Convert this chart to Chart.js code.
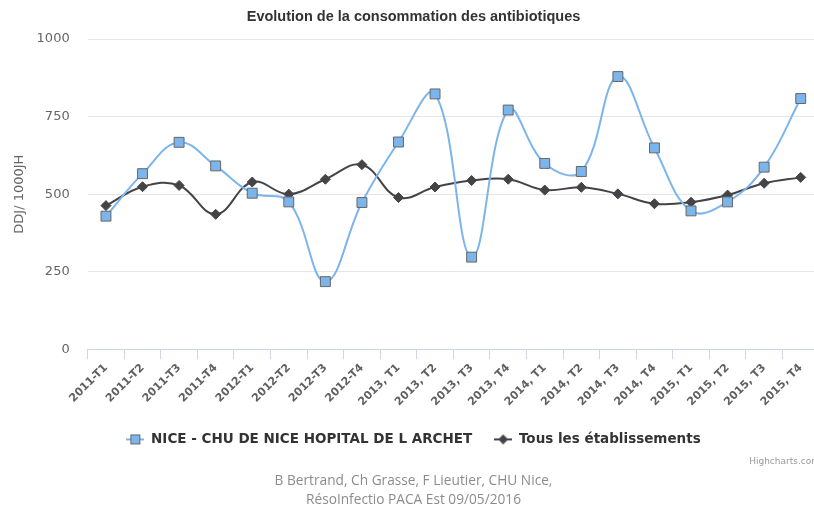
<!DOCTYPE html>
<html>
<head>
<meta charset="utf-8">
<script src="https://cdn.jsdelivr.net/npm/chart.js@4.4.1/dist/chart.umd.min.js"></script>
<style>
  html, body { margin: 0; padding: 0; background: #fff; overflow: hidden; }
  #wrap { width: 814px; height: 511px; overflow: hidden; }
  #box { width: 830px; height: 511px; }
</style>
</head>
<body>
<div id="wrap"><div id="box"><canvas id="graphique"></canvas></div></div>
<script>
// Trimestres
const categories = ['2011-T1', '2011-T2', '2011-T3', '2011-T4', '2012-T1', '2012-T2', '2012-T3', '2012-T4',
  '2013, T1', '2013, T2', '2013, T3', '2013, T4', '2014, T1', '2014, T2', '2014, T3', '2014, T4',
  '2015, T1', '2015, T2', '2015, T3', '2015, T4']

// DDJ / 1000JH
const valeursNice = [429, 566, 667, 591, 503, 475, 218, 473, 668, 823, 297, 771, 599, 573, 879, 649, 446, 475, 587, 808]
const valeursTous = [463, 524, 528, 435, 539, 500, 548, 595, 489, 523, 544, 548, 513, 522, 501, 469, 474, 497, 535, 554]

const yTicks = [0, 250, 500, 750, 1000]

const titre = 'Evolution de la consommation des antibiotiques'
const source = ['B Bertrand, Ch Grasse, F Lieutier, CHU Nice,', 'RésoInfectio PACA Est 09/05/2016']

// petites icones de legende (trait + marqueur)
function iconeLegende(couleur, forme) {
  const c = document.createElement('canvas')
  c.width = 18
  c.height = 12
  const ctx = c.getContext('2d')
  ctx.strokeStyle = couleur
  ctx.lineWidth = 2
  ctx.beginPath()
  ctx.moveTo(0, 6)
  ctx.lineTo(18, 6)
  ctx.stroke()
  if (forme === 'carre') {
    ctx.fillStyle = '#7cb5ec'
    ctx.strokeStyle = '#666666'
    ctx.lineWidth = 1
    ctx.fillRect(4.5, 1.5, 9, 9)
    ctx.strokeRect(4.5, 1.5, 9, 9)
  } else {
    ctx.fillStyle = '#434348'
    ctx.beginPath()
    ctx.moveTo(9, 1)
    ctx.lineTo(14, 6)
    ctx.lineTo(9, 11)
    ctx.lineTo(4, 6)
    ctx.closePath()
    ctx.fill()
  }
  return c
}

const icones = [iconeLegende('#7cb5ec', 'carre'), iconeLegende('#434348', 'losange')]

const credits = {
  id: 'credits',
  afterDraw(chart) {
    const ctx = chart.ctx
    ctx.save()
    ctx.font = '9px "DejaVu Sans"'
    ctx.fillStyle = '#999999'
    ctx.textAlign = 'right'
    ctx.textBaseline = 'middle'
    ctx.fillText('Highcharts.com', 820, 462)
    ctx.restore()
  }
}

new Chart(document.getElementById('graphique'), {
  type: 'line',
  data: {
    labels: categories,
    datasets: [{
      label: 'NICE - CHU DE NICE HOPITAL DE L ARCHET',
      data: valeursNice,
      borderColor: '#7cb5ec',
      backgroundColor: '#7cb5ec',
      borderWidth: 2,
      tension: 0.4,
      pointStyle: 'rect',
      pointRadius: 7,
      pointHoverRadius: 7,
      pointBackgroundColor: '#7cb5ec',
      pointBorderColor: '#666666',
      pointBorderWidth: 1
    }, {
      label: 'Tous les établissements',
      data: valeursTous,
      borderColor: '#434348',
      backgroundColor: '#434348',
      borderWidth: 2,
      tension: 0.4,
      pointStyle: 'rectRot',
      pointRadius: 5,
      pointHoverRadius: 5,
      pointBackgroundColor: '#434348',
      pointBorderColor: '#434348',
      pointBorderWidth: 1
    }]
  },
  options: {
    responsive: true,
    maintainAspectRatio: false,
    animation: false,
    layout: { padding: { left: 8, right: 11, top: 0, bottom: 0 } },
    plugins: {
      title: {
        display: true,
        text: titre,
        color: '#333333',
        font: { family: '"Liberation Sans", Arial', size: 14.5, weight: 'bold' },
        padding: { top: 8, bottom: 13.6 }
      },
      subtitle: {
        display: true,
        position: 'bottom',
        text: source,
        color: '#8c8c8c',
        font: { family: '"Open Sans"', size: 13.7, lineHeight: 1.4 },
        padding: { top: 15.3, bottom: 1.2 }
      },
      legend: {
        position: 'bottom',
        labels: {
          usePointStyle: true,
          pointStyleWidth: 18,
          padding: 22,
          color: '#333333',
          font: { family: '"DejaVu Sans"', size: 13.5, weight: 'bold' },
          generateLabels(chart) {
            const items = Chart.defaults.plugins.legend.labels.generateLabels(chart)
            items.forEach((it, i) => { it.pointStyle = icones[i] })
            return items
          }
        }
      },
      tooltip: { enabled: false }
    },
    scales: {
      x: {
        offset: true,
        grid: {
          offset: true,
          drawOnChartArea: false,
          drawTicks: true,
          tickLength: 10,
          color: '#ccd6eb'
        },
        border: { display: true, color: '#ccd6eb', width: 1 },
        ticks: {
          autoSkip: false,
          maxRotation: 45,
          minRotation: 45,
          padding: 2,
          color: '#606060',
          font: { family: '"DejaVu Sans"', size: 11, weight: 'bold' }
        }
      },
      y: {
        min: 0,
        max: 1000,
        afterBuildTicks(axis) { axis.ticks = yTicks.map(v => ({ value: v })) },
        // Chart.js compte deux fois le padding des etiquettes
        afterFit(axis) { axis.width -= axis.options.ticks.padding },
        grid: { color: '#e6e6e6', drawTicks: false },
        border: { display: false },
        ticks: {
          padding: 18,
          color: '#666666',
          font: { family: '"DejaVu Sans"', size: 13 },
          callback: v => String(v)
        },
        title: {
          display: true,
          text: 'DDJ/ 1000JH',
          color: '#666666',
          font: { family: '"DejaVu Sans"', size: 13 },
          padding: { top: 4, bottom: 9 }
        }
      }
    }
  },
  plugins: [credits]
})
</script>
</body>
</html>
